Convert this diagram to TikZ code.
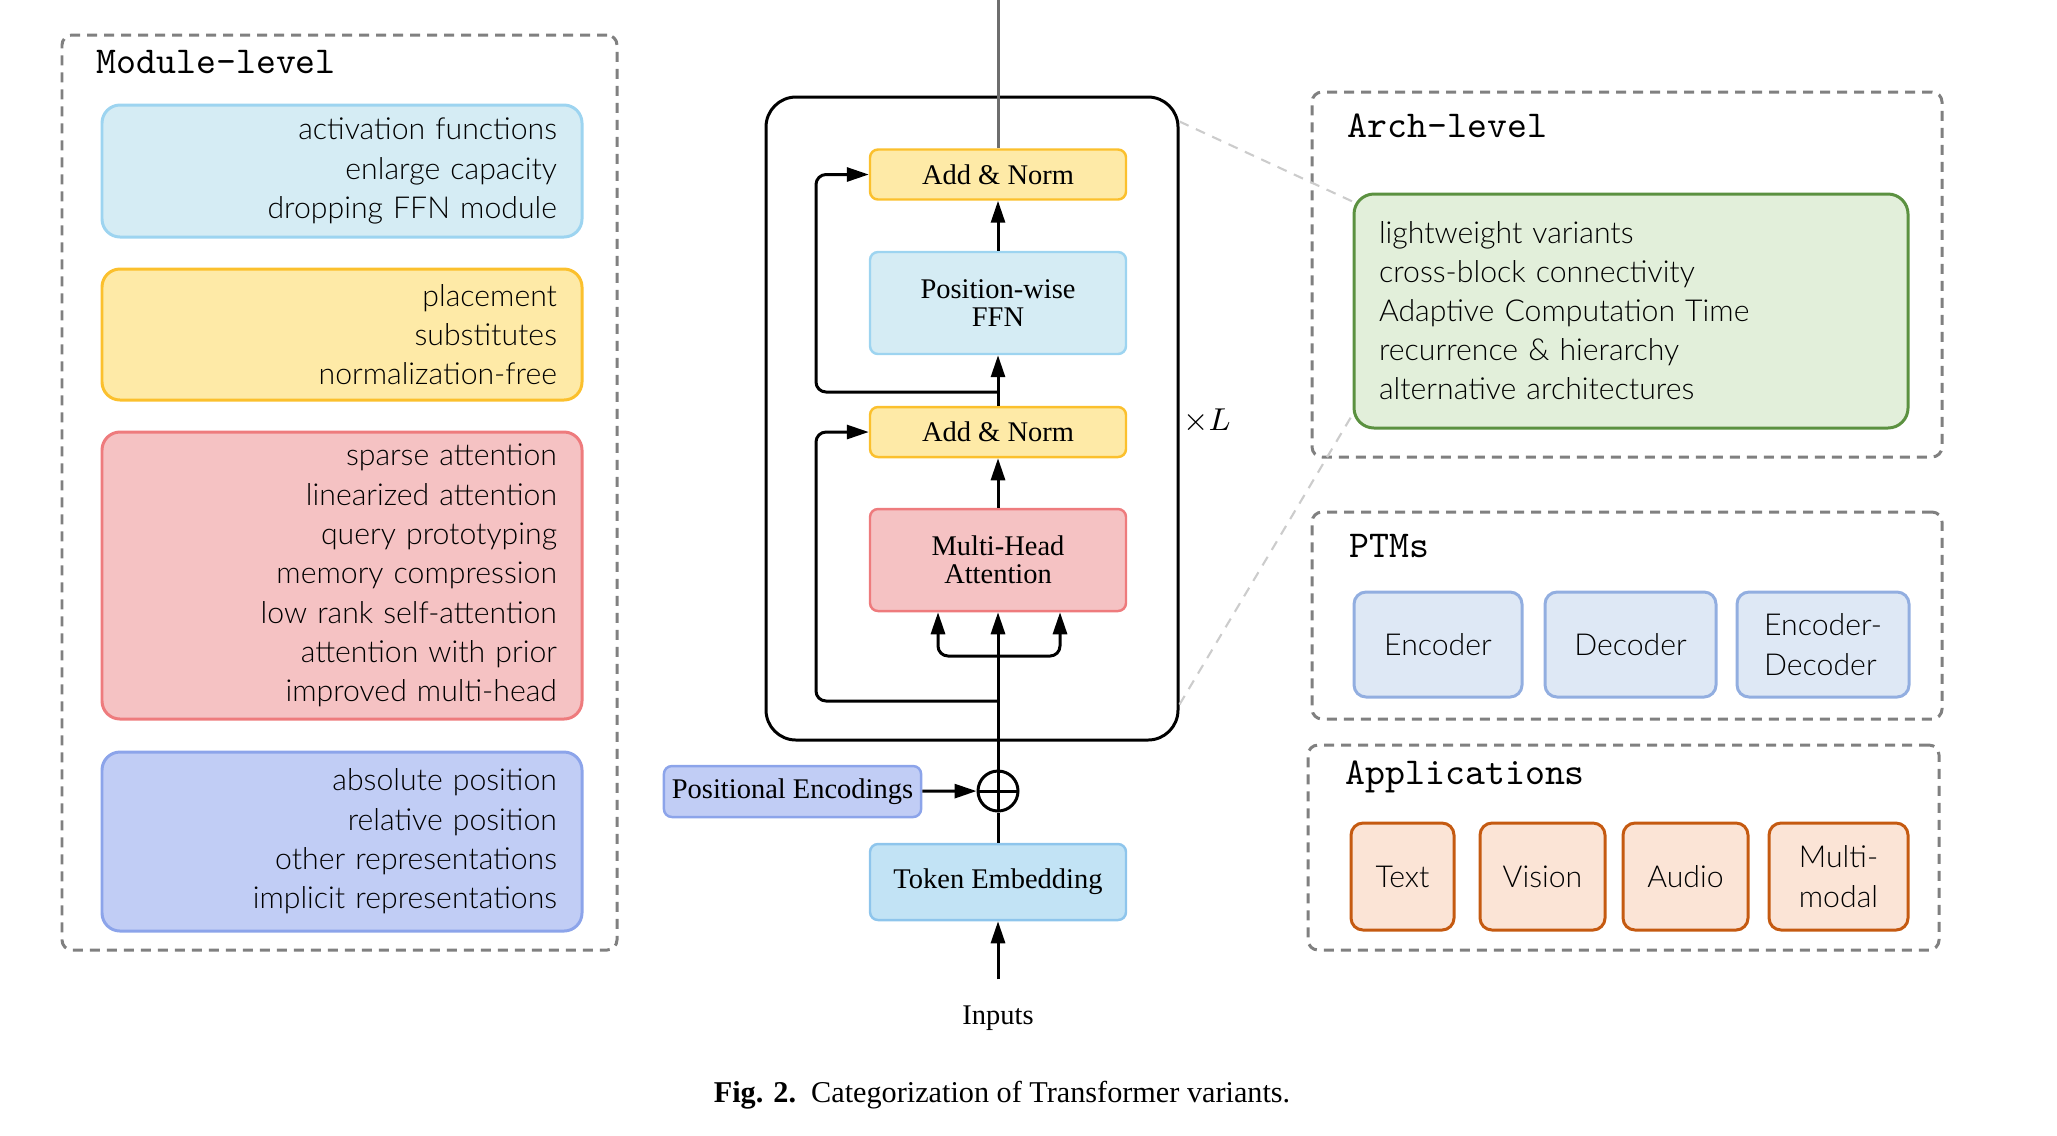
\documentclass[tikz,border=0pt]{standalone}
\usepackage{fontspec}
\setmainfont{Liberation Serif}
\newfontfamily\latofont{Lato}[UprightFont=* Light]
\usetikzlibrary{arrows.meta}

\definecolor{cyanfill}{HTML}{D5ECF4}
\definecolor{cyanline}{HTML}{9DD4F0}
\definecolor{yelfill}{HTML}{FEEAA7}
\definecolor{yelline}{HTML}{FBC02D}
\definecolor{redfill}{HTML}{F5C2C3}
\definecolor{redline}{HTML}{EE7B7D}
\definecolor{perifill}{HTML}{C1CDF5}
\definecolor{periline}{HTML}{8CA4EA}
\definecolor{tokfill}{HTML}{C2E3F5}
\definecolor{tokline}{HTML}{8EC5EC}
\definecolor{grnfill}{HTML}{E2EFDA}
\definecolor{grnline}{HTML}{5B9140}
\definecolor{ptmfill}{HTML}{DEE8F5}
\definecolor{ptmline}{HTML}{92AEE0}
\definecolor{appfill}{HTML}{FBE4D6}
\definecolor{appline}{HTML}{C55A11}
\definecolor{dashgray}{HTML}{808080}
\definecolor{zoomgray}{HTML}{CCCCCC}
\definecolor{topgray}{HTML}{6E6E6E}

\tikzset{
	>={Triangle[length=2.2mm,width=1.4mm]},
	arr/.style={->, line width=0.85pt},
	grpbox/.style={draw=dashgray, dash pattern=on 1mm off 0.7mm, line width=0.85pt, rounded corners=1mm},
	grptitle/.style={anchor=west, inner sep=0pt, font=\fontsize{10.8}{12}\selectfont\ttfamily},
	modbox/.style={draw, line width=0.85pt, rounded corners=1.8mm, text width=43mm, inner xsep=2.5mm, align=right, font=\latofont\fontsize{8.6}{11.2}\selectfont},
	blk/.style={draw, line width=0.7pt, rounded corners=0.8mm, minimum width=25.6mm, align=center, font=\fontsize{8.1}{8}\selectfont},
	catbox/.style={draw, line width=0.85pt, rounded corners=1.2mm, minimum height=10.5mm, align=left, font=\latofont\fontsize{8.6}{11.2}\selectfont},
	addop/.style={circle, draw, line width=0.85pt, minimum size=4mm, inner sep=0pt,
		path picture={\draw[line width=0.85pt] (path picture bounding box.north) -- (path picture bounding box.south) (path picture bounding box.west) -- (path picture bounding box.east);}},
	zoomline/.style={draw=zoomgray, dash pattern=on 1mm off 0.8mm, line width=0.6pt}
}

\begin{document}
\begin{tikzpicture}[x=0.1mm, y=-0.1mm]
	\useasboundingbox (0,0) rectangle (2057,1135);
	%
	\begin{scope}
	\node[grpbox, minimum width=55.5mm, minimum height=91.5mm] (mod) at (339.5,492.5) {};
	\node[grptitle] (modt) at (96,62) {Module-level};
	\node[modbox, fill=cyanfill, draw=cyanline, minimum height=13.2mm] (m1) at (342,171) {activation functions\\enlarge capacity\\dropping FFN module};
	\node[modbox, fill=yelfill, draw=yelline, minimum height=13.1mm] (m2) at (342,334.5) {placement\\substitutes\\normalization-free};
	\node[modbox, fill=redfill, draw=redline, minimum height=28.7mm] (m3) at (342,575.5) {sparse attention\\linearized attention\\query prototyping\\memory compression\\low rank self-attention\\attention with prior\\improved multi-head};
	\node[modbox, fill=perifill, draw=periline, minimum height=17.9mm] (m4) at (342,841.5) {absolute position\\relative position\\other representations\\implicit representations};
	\end{scope}
	%
	\begin{scope}
	\node[draw, line width=0.85pt, rounded corners=3mm, minimum width=41.2mm, minimum height=64.3mm] (layer) at (972,418.5) {};
	\node[blk, fill=yelfill, draw=yelline, minimum height=5mm] (an1) at (998,174.5) {Add \& Norm};
	\node[blk, fill=cyanfill, draw=cyanline, minimum height=10.2mm] (ffn) at (998,303) {Position-wise\\FFN};
	\node[blk, fill=yelfill, draw=yelline, minimum height=5mm] (an2) at (998,432) {Add \& Norm};
	\node[blk, fill=redfill, draw=redline, minimum height=10.2mm] (mha) at (998,560) {Multi-Head\\Attention};
	\node[addop] (plus) at (998,791) {};
	\node[blk, fill=perifill, draw=periline, minimum width=0pt, minimum height=5.1mm, inner xsep=0.8mm] (pe) at (792.5,791.5) {Positional Encodings};
	\node[blk, fill=tokfill, draw=tokline, minimum height=7.6mm] (tok) at (998,882) {Token Embedding};
	\node[font=\fontsize{8.1}{9}\selectfont] (inp) at (998,1018) {Inputs};
	\node[font=\fontsize{8.6}{10}\selectfont] (rep) at (1207,421) {$\times L$};
	\coordinate (out) at (998,0);
	\coordinate (res2) at (998,392);
	\coordinate (res1) at (998,701);
	\coordinate (fork) at (998,656);
	\draw[line width=0.85pt, draw=topgray] (an1) -- (out);
	\draw[arr] (ffn) -- (an1);
	\draw[arr] (an2) -- (ffn);
	\draw[arr, rounded corners=1mm] (res2) -- ++(-182,0) |- (an1.west);
	\draw[arr] (mha) -- (an2);
	\draw[arr, rounded corners=1mm] (res1) -- ++(-182,0) |- (an2.west);
	\draw[arr] (plus) -- (mha);
	\draw[arr, rounded corners=1mm] (fork) -| ([xshift=-6mm]mha.south);
	\draw[arr, rounded corners=1mm] (fork) -| ([xshift=6.2mm]mha.south);
	\draw[line width=0.85pt] (tok) -- (plus);
	\draw[arr] (pe) -- (plus);
	\draw[arr, shorten <=1.4mm] (inp) -- (tok);
	\end{scope}
	%
	\begin{scope}
	\node[grpbox, minimum width=63mm, minimum height=36.5mm] (arch) at (1627,274.5) {};
	\node[grptitle] (archt) at (1347,126) {Arch-level};
	\node[draw=grnline, fill=grnfill, line width=0.85pt, rounded corners=2mm, text width=50.4mm, inner xsep=2.5mm, minimum height=23.4mm, align=left, font=\latofont\fontsize{8.6}{11.1}\selectfont] (green) at (1631,311) {lightweight variants\\cross-block connectivity\\Adaptive Computation Time\\recurrence \& hierarchy\\alternative architectures};
	%
	\node[grpbox, minimum width=63mm, minimum height=20.7mm] (ptm) at (1627,615.5) {};
	\node[grptitle] (ptmt) at (1349,546) {PTMs};
	\node[catbox, fill=ptmfill, draw=ptmline, minimum width=16.8mm] (enc) at (1438,644.5) {Encoder};
	\node[catbox, fill=ptmfill, draw=ptmline, minimum width=17.1mm] (dec) at (1630.5,644.5) {Decoder};
	\node[catbox, fill=ptmfill, draw=ptmline, minimum width=17.2mm] (encdec) at (1823,644.5) {Encoder-\\Decoder};
	%
	\node[grpbox, minimum width=63.1mm, minimum height=20.5mm] (app) at (1623.5,847.5) {};
	\node[grptitle] (appt) at (1345,777) {Applications};
	\node[catbox, fill=appfill, draw=appline, minimum width=10.3mm, minimum height=10.7mm] (txt) at (1402.5,876.5) {Text};
	\node[catbox, fill=appfill, draw=appline, minimum width=12.5mm, minimum height=10.7mm] (vis) at (1542.5,876.5) {Vision};
	\node[catbox, fill=appfill, draw=appline, minimum width=12.5mm, minimum height=10.7mm] (aud) at (1685.5,876.5) {Audio};
	\node[catbox, fill=appfill, draw=appline, minimum width=13.9mm, minimum height=10.7mm] (mm) at (1838.5,876.5) {Multi-\\modal};
	\end{scope}
	%
	\draw[zoomline] ([yshift=-2.6mm]layer.north east) -- ([yshift=-0.9mm]green.north west);
	\draw[zoomline] ([yshift=3.7mm]layer.south east) -- ([yshift=1.5mm]green.south west);
	\node[font=\fontsize{8.6}{10}\selectfont] (cap) at (1002,1095) {\textbf{Fig. 2.}\ \ Categorization of Transformer variants.};
\end{tikzpicture}
\end{document}
